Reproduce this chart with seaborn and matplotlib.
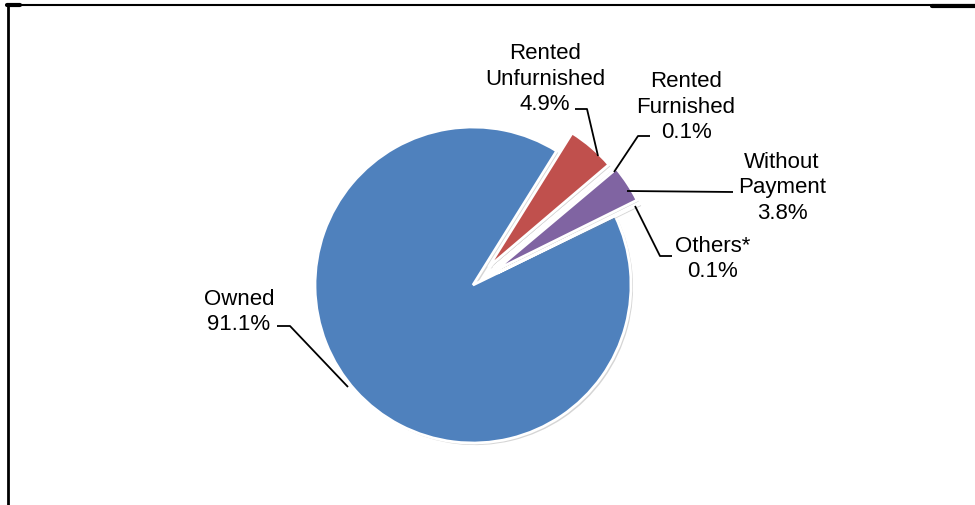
import matplotlib.pyplot as plt
import matplotlib.patheffects as pe
import seaborn as sns
from matplotlib.lines import Line2D

# data
categories = ["Owned", "Rented\nUnfurnished", "Rented\nFurnished", "Without\nPayment", "Others*"]
shares = [91.1, 4.9, 0.1, 3.8, 0.1]
colors = ["#4F81BD", "#C0504D", "#9BBB59", "#8064A2", "#4BACC6"]

sns.set_theme(style="white")
plt.rcParams["font.family"] = ["Liberation Sans", "DejaVu Sans"]

W, H = 975, 506
fig = plt.figure(figsize=(W / 100, H / 100), dpi=100)
ax = fig.add_axes([0, 0, 1, 1])

cx, cy, r = 473, H - 286, 158
# explode is in data units (pixels here)
explode = [0, 0.15 * r, 0.17 * r, 0.17 * r, 0.17 * r]
wedges, _ = ax.pie(shares, colors=colors, explode=explode, startangle=26,
                   counterclock=False, center=(cx, cy), radius=r, frame=True,
                   wedgeprops=dict(edgecolor="white", linewidth=2))
for w in wedges:
    w.set_path_effects([pe.SimplePatchShadow(offset=(1.5, -1.5), shadow_rgbFace="#888888", alpha=0.35),
                        pe.Normal()])
ax.set_xlim(0, W)
ax.set_ylim(0, H)
ax.axis("off")

# labels: (text center x, text center y, leader line points) in image pixels
label_pos = [
    (239, 312, [(277, 327), (290, 327), (348, 388)]),
    (545, 79, [(575, 110), (587, 110), (598, 157)]),
    (686, 107, [(650, 137), (638, 137), (614, 173)]),
    (782, 188, [(733, 193), (627, 192)]),
    (713, 259, [(672, 257), (660, 257), (635, 207)]),
]
for (name, val), (tx, ty, pts) in zip(zip(categories, shares), label_pos):
    ax.text(tx, H - ty, f"{name}\n{val:.1f}%", ha="center", va="center",
            fontsize=16, linespacing=1.3, color="black")
    xs = [p[0] for p in pts]
    ys = [H - p[1] for p in pts]
    ax.plot(xs, ys, color="black", lw=1.3, solid_capstyle="butt")

# frame lines
def px(x, y):
    return x / W, 1 - y / H

fig.add_artist(Line2D(*zip(px(7, 6), px(975, 6)), color="black", lw=1.5, transform=fig.transFigure))
fig.add_artist(Line2D(*zip(px(932, 6.5), px(975, 6.5)), color="black", lw=3, transform=fig.transFigure))
fig.add_artist(Line2D(*zip(px(7, 6), px(20, 6)), color="black", lw=3, transform=fig.transFigure))
fig.add_artist(Line2D(*zip(px(7.5, 5), px(7.5, 506)), color="black", lw=2, transform=fig.transFigure))

fig.savefig("out.png", dpi=100)
